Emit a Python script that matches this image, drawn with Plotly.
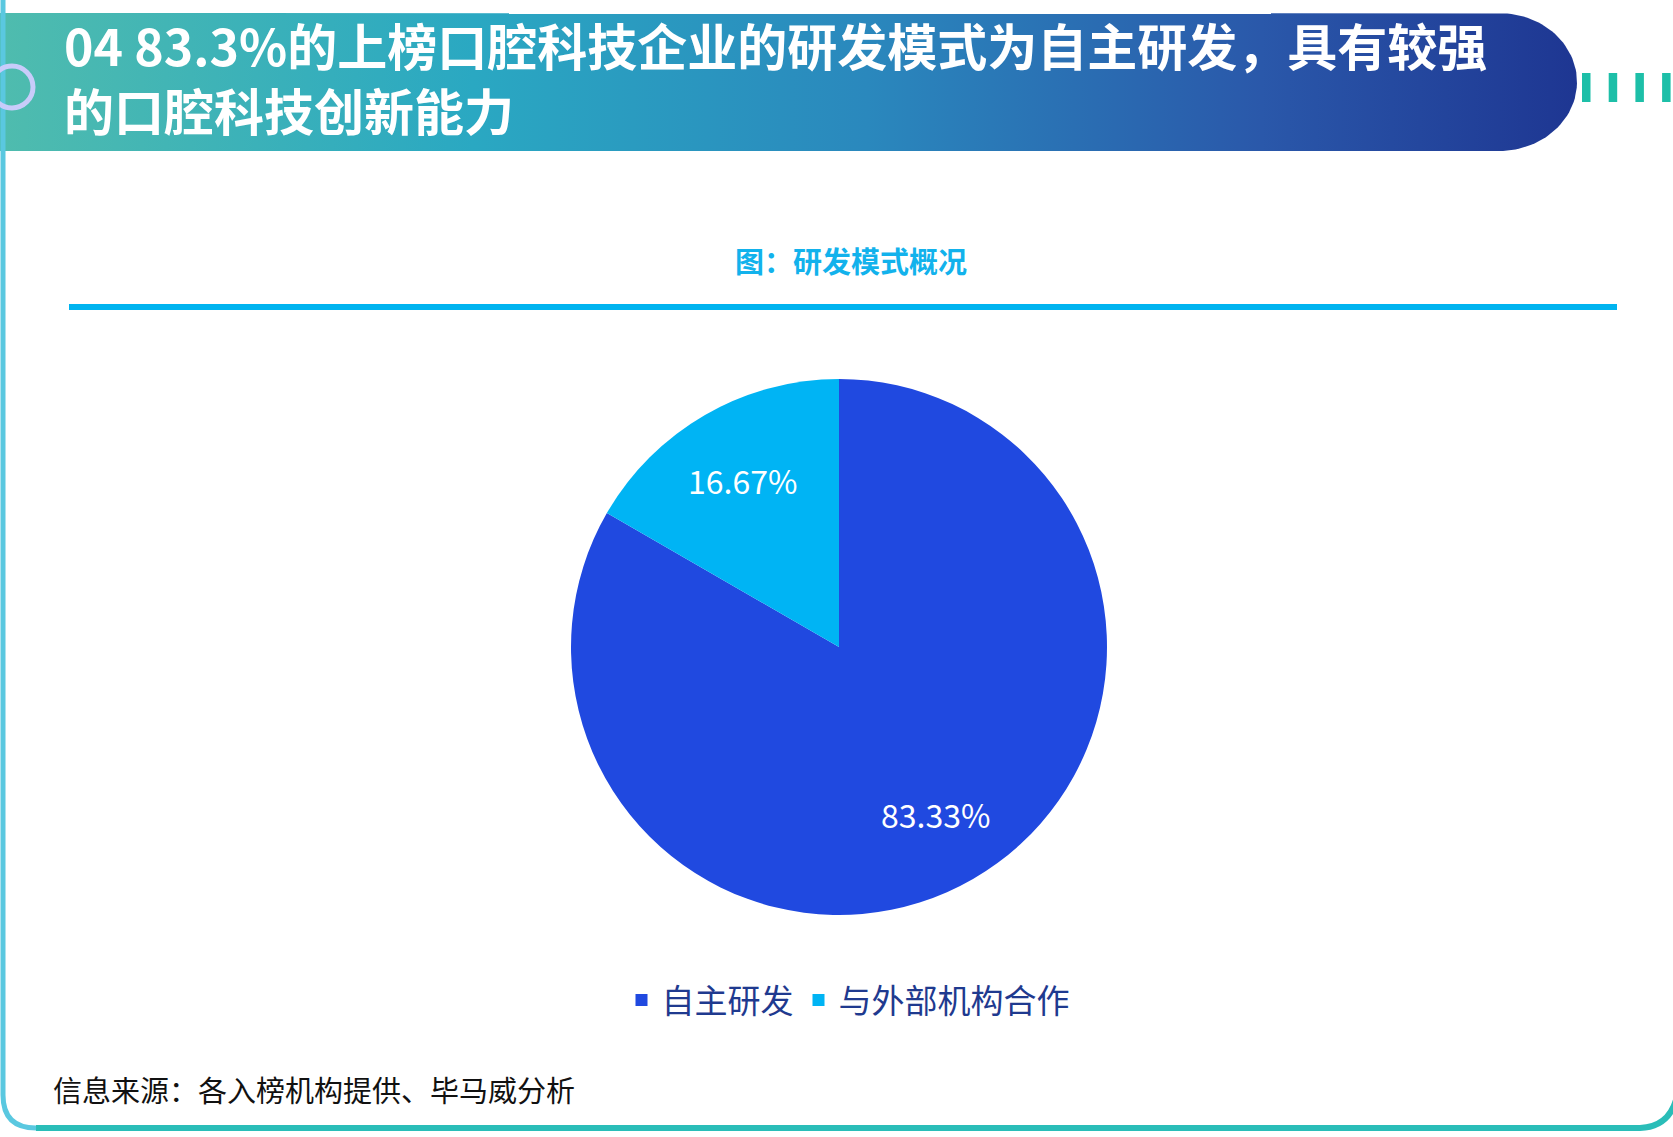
import numpy as np
import plotly.graph_objects as go

W, H = 1673, 1137

# ---- data ----
labels = ["自主研发", "与外部机构合作"]
values = [83.33, 16.67]
colors = ["#2049e0", "#00b4f4"]

title_lines = ["04 83.3%的上榜口腔科技企业的研发模式为自主研发，具有较强", "的口腔科技创新能力"]
subtitle = "图：研发模式概况"
source = "信息来源：各入榜机构提供、毕马威分析"

FONT = "Noto Sans CJK SC"

def px(x):
    return x / W

def py(y):
    return 1 - y / H

fig = go.Figure()

# ---- header band with gradient (decorative) ----
top, bot = 13, 151
cx, rx = 1499, 78
ry = (bot - top) / 2
cy = (top + bot) / 2
t = np.linspace(-np.pi / 2, np.pi / 2, 60)
cap_x = cx + rx * np.cos(t)
cap_y = cy + ry * np.sin(t)
bx = [0] + list(cap_x) + [0, 0]
by = [top] + list(cap_y) + [bot, top]
fig.add_trace(go.Scatter(
    x=bx, y=by, mode="lines", fill="toself", line=dict(width=0),
    fillgradient=dict(type="horizontal",
                      colorscale=[[0, "#4fbcae"], [0.3, "#2aa8c2"], [0.55, "#2a88bd"],
                                  [0.8, "#2a58aa"], [1, "#1e3692"]]),
    hoverinfo="skip", showlegend=False, xaxis="x", yaxis="y"))

fig.update_layout(
    xaxis=dict(domain=[0, 1], range=[0, W], visible=False, fixedrange=True),
    yaxis=dict(domain=[0, 1], range=[H, 0], visible=False, fixedrange=True),
)

# ---- pie ----
pcx, pcy, pr = 839, 647, 268
fig.add_trace(go.Pie(
    labels=labels, values=values, sort=False, direction="clockwise", rotation=0,
    marker=dict(colors=colors, line=dict(width=0)),
    textinfo="none",
    domain=dict(x=[px(pcx - pr), px(pcx + pr)], y=[py(pcy + pr), py(pcy - pr)]),
    hoverinfo="label+percent",
))

# slice labels placed at the mid-angle of each slice (computed from the values)
total = sum(values)
annotations = []
cum = 0.0
for v in values:
    mid = (cum + v / 2) / total * 2 * np.pi  # clockwise from 12 o'clock
    cum += v
    lx = pcx + 0.72 * pr * np.sin(mid)
    ly = pcy - 0.72 * pr * np.cos(mid)
    annotations.append(dict(text=f"{v / total * 100:.2f}%", xref="paper", yref="paper",
                            x=px(lx), y=py(ly), xanchor="center", yanchor="middle",
                            showarrow=False, font=dict(family=FONT, size=32, color="white")))

shapes = []
# left/bottom frame
shapes.append(dict(type="path", xref="paper", yref="paper",
                   path=f"M {px(3)},{py(0)} L {px(3)},{py(1095)} Q {px(3)},{py(1128)} {px(36)},{py(1128)}",
                   line=dict(color="#5ac8e0", width=5)))
shapes.append(dict(type="path", xref="paper", yref="paper",
                   path=f"M {px(36)},{py(1128)} L {px(1640)},{py(1128)} Q {px(1668)},{py(1127)} {px(1676)},{py(1100)}",
                   line=dict(color="#2abdb8", width=6)))
# ring on the left
shapes.append(dict(type="circle", xref="paper", yref="paper",
                   x0=px(12 - 21), x1=px(12 + 21), y0=py(87 + 21), y1=py(87 - 21),
                   line=dict(color="#c8ccfa", width=5)))
# dashes on the right
for i in range(4):
    x0 = 1582 + i * 26.7
    shapes.append(dict(type="rect", xref="paper", yref="paper",
                       x0=px(x0), x1=px(x0 + 8.5), y0=py(102), y1=py(73),
                       fillcolor="#1dbfa8", line=dict(width=0)))
# blue rule under subtitle
shapes.append(dict(type="line", xref="paper", yref="paper",
                   x0=px(69), x1=px(1617), y0=py(307), y1=py(307),
                   line=dict(color="#00b4f0", width=6)))

annotations.append(dict(text="<br>".join(f"<b>{ln}</b>" for ln in title_lines),
                        xref="paper", yref="paper", align="left",
                        x=px(62), y=py(77), xanchor="left", yanchor="middle",
                        showarrow=False, font=dict(family=FONT, size=50, color="white")))
annotations.append(dict(text=f"<b>{subtitle}</b>", xref="paper", yref="paper",
                        x=px(851), y=py(260), xanchor="center", yanchor="middle",
                        showarrow=False, font=dict(family=FONT, size=29, color="#12b2ec")))
annotations.append(dict(text=source, xref="paper", yref="paper",
                        x=px(51), y=py(1089), xanchor="left", yanchor="middle",
                        showarrow=False, font=dict(family=FONT, size=29, color="#111111")))

fig.update_layout(
    width=W, height=H, margin=dict(l=0, r=0, t=0, b=0),
    paper_bgcolor="white", plot_bgcolor="rgba(0,0,0,0)",
    shapes=shapes, annotations=annotations,
    showlegend=True,
    legend=dict(orientation="h", x=px(848), y=py(1000), xanchor="center", yanchor="middle",
                font=dict(family=FONT, size=33, color="#1f3a8f"),
                bgcolor="rgba(0,0,0,0)"),
)

fig.write_html("out.html")
